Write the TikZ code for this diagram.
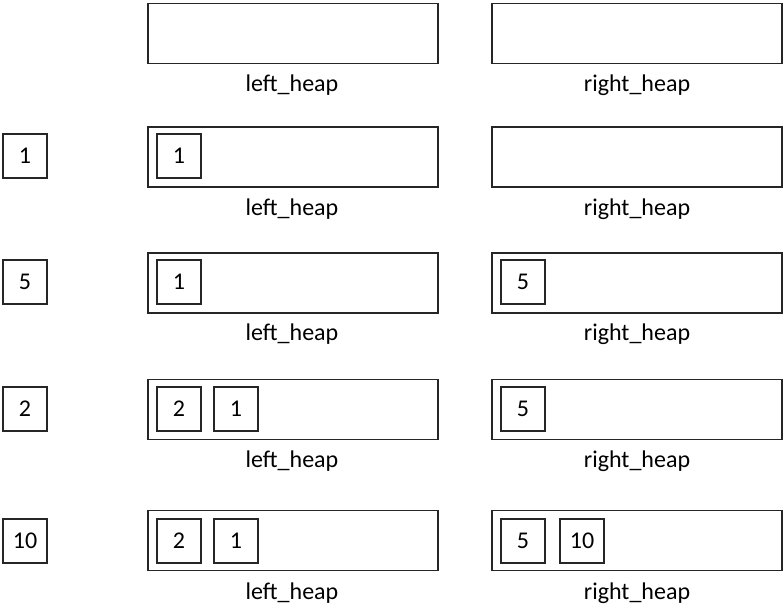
\documentclass[tikz,border=0pt]{standalone}
\usepackage{fontspec}
\setmainfont{Carlito}
\begin{document}
\begin{tikzpicture}[x=0.75pt,y=-0.75pt,
  heap/.style={draw=black!85,line width=1.3pt,minimum width=217.5pt,minimum height=45pt,inner sep=0pt},
  item/.style={draw=black!85,line width=1.3pt,minimum width=32.5pt,minimum height=32.5pt,inner sep=0pt,font=\fontsize{18}{20}\selectfont},
  lbl/.style={inner sep=0pt,font=\fontsize{18}{20}\selectfont}]
\useasboundingbox (0,0) rectangle (784,610);
% row 1
\node[heap] (L1) at (293,33.5) {};
\node[heap] (R1) at (637,33.5) {};
\node[lbl] (lL1) at (292,85) {left\_heap};
\node[lbl] (lR1) at (637,85) {right\_heap};
% row 2
\node[item] (n2) at (25,156) {1};
\node[heap] (L2) at (293,157) {};
\node[heap] (R2) at (637,157) {};
\node[item] (L2a) at (179,156) {1};
\node[lbl] (lL2) at (292,209) {left\_heap};
\node[lbl] (lR2) at (637,209) {right\_heap};
% row 3
\node[item] (n3) at (25,282) {5};
\node[heap] (L3) at (293,283) {};
\node[heap] (R3) at (637,283) {};
\node[item] (L3a) at (179,282) {1};
\node[item] (R3a) at (523,282) {5};
\node[lbl] (lL3) at (292,334) {left\_heap};
\node[lbl] (lR3) at (637,334) {right\_heap};
% row 4
\node[item] (n4) at (25,409) {2};
\node[heap] (L4) at (293,409.5) {};
\node[heap] (R4) at (637,409.5) {};
\node[item] (L4a) at (179,409) {2};
\node[item] (L4b) at (236,409) {1};
\node[item] (R4a) at (523,409) {5};
\node[lbl] (lL4) at (292,461) {left\_heap};
\node[lbl] (lR4) at (637,461) {right\_heap};
% row 5
\node[item] (n5) at (25,541) {10};
\node[heap] (L5) at (293,540.5) {};
\node[heap] (R5) at (637,540.5) {};
\node[item] (L5a) at (179,541) {2};
\node[item] (L5b) at (236,541) {1};
\node[item] (R5a) at (523,541) {5};
\node[item] (R5b) at (582,541) {10};
\node[lbl] (lL5) at (292,593) {left\_heap};
\node[lbl] (lR5) at (637,593) {right\_heap};
\end{tikzpicture}
\end{document}
